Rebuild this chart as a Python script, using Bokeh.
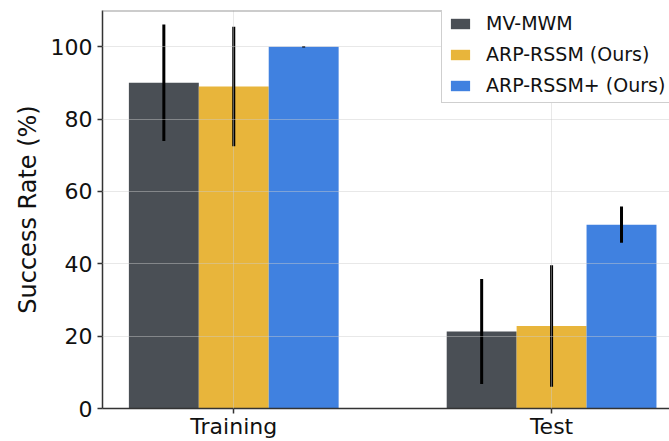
from bokeh.plotting import figure
from bokeh.models import ColumnDataSource, FixedTicker, Range1d, Legend, LegendItem, Span
from bokeh.embed import file_html
from bokeh.resources import INLINE

categories = ["Training", "Test"]
series = ["MV-MWM", "ARP-RSSM (Ours)", "ARP-RSSM+ (Ours)"]
mv_mwm = [90.0, 21.3]
mv_mwm_err = [16.1, 14.5]
arp_rssm = [89.0, 22.8]
arp_rssm_err = [16.5, 16.8]
arp_rssm_plus = [100.0, 50.8]
arp_rssm_plus_err = [0.2, 5.0]
y_ticks = [0, 20, 40, 60, 80, 100]

colors = ["#4a4f55", "#e8b53b", "#4081e0"]
values = [mv_mwm, arp_rssm, arp_rssm_plus]
errors = [mv_mwm_err, arp_rssm_err, arp_rssm_plus_err]

FONT = "DejaVu Sans"
bw = 0.22

p = figure(width=669, height=441, output_backend="svg", toolbar_location=None,
           x_range=Range1d(-0.413, 1.371), y_range=Range1d(0, 110),
           min_border_left=102, min_border_right=0, min_border_top=10, min_border_bottom=33)
p.outline_line_color = None
p.background_fill_color = "white"
p.border_fill_color = "white"

xs = list(range(len(categories)))
items = []
for i, (vals, errs, col, name) in enumerate(zip(values, errors, colors, series)):
    off = (i - 1) * bw
    src = ColumnDataSource(dict(
        x=[x + off for x in xs], top=vals,
        lo=[v - e for v, e in zip(vals, errs)],
        hi=[v + e for v, e in zip(vals, errs)]))
    r = p.vbar(x="x", top="top", bottom=0, width=bw, source=src,
               fill_color=col, line_color=None)
    p.segment(x0="x", x1="x", y0="lo", y1="hi", source=src,
              line_color="black", line_width=3)
    items.append(LegendItem(label=name, renderers=[r]))

legend = Legend(items=items, location=(339, 305), margin=0, padding=6,
                glyph_width=24, glyph_height=13, label_standoff=14,
                label_height=20, spacing=9,
                label_text_font=FONT, label_text_font_size="19px",
                label_text_color="#111111",
                border_line_color="#a0a0a0", border_line_width=1.5,
                background_fill_color="white", background_fill_alpha=1.0)
p.add_layout(legend)

top_line = Span(location=110, dimension="width", line_color="#999999", line_width=2)
p.add_layout(top_line)

p.xaxis.ticker = FixedTicker(ticks=xs)
p.xaxis.major_label_overrides = {i: c for i, c in enumerate(categories)}
p.yaxis.ticker = FixedTicker(ticks=y_ticks)
p.yaxis.axis_label = "Success Rate (%)"

for ax in (p.xaxis, p.yaxis):
    ax.axis_line_color = "#333333"
    ax.axis_line_width = 1.5
    ax.major_tick_line_color = "#333333"
    ax.major_tick_line_width = 1.5
    ax.major_tick_out = 5
    ax.major_tick_in = 0
    ax.minor_tick_line_color = None
    ax.major_label_text_font = FONT
    ax.major_label_text_font_size = "22px"
    ax.major_label_text_color = "#111111"
    ax.axis_label_text_font = FONT
    ax.axis_label_text_font_size = "24px"
    ax.axis_label_text_font_style = "normal"
    ax.axis_label_text_color = "#111111"
p.xaxis.major_label_standoff = 0
p.yaxis.major_label_standoff = 5
p.yaxis.axis_label_standoff = 6

for g in (p.xgrid, p.ygrid):
    g.grid_line_color = "#cccccc"
    g.grid_line_alpha = 0.45
    g.grid_line_width = 1
    g.level = "annotation"
p.xgrid.ticker = FixedTicker(ticks=xs)
p.ygrid.ticker = FixedTicker(ticks=y_ticks)

open("out.html", "w").write(file_html(p, INLINE))
